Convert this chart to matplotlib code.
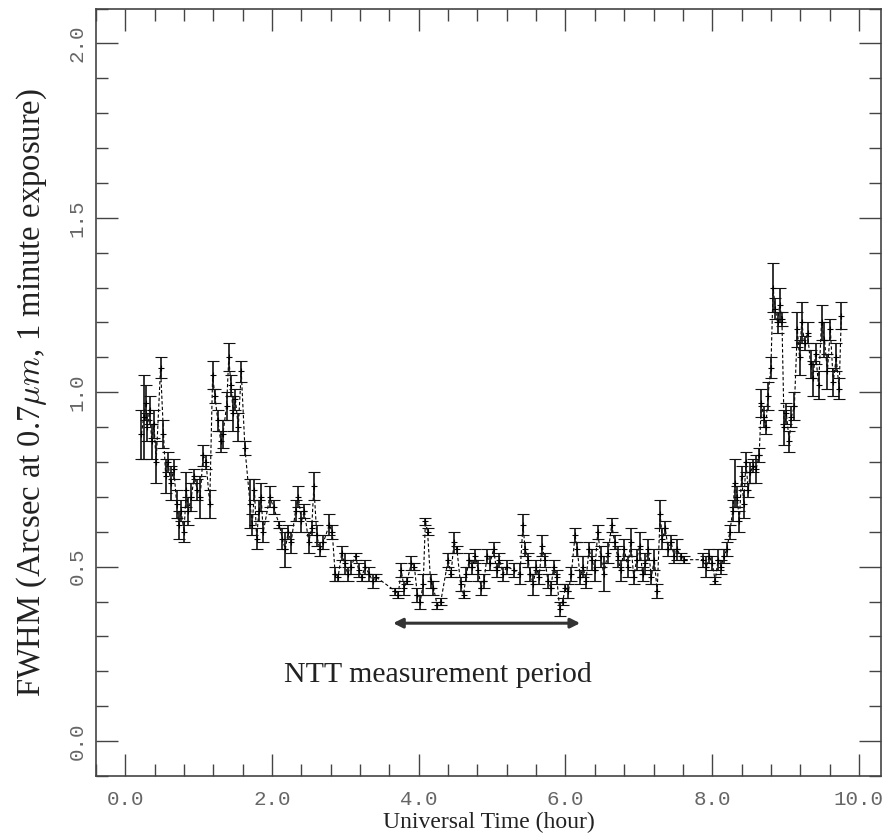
import matplotlib
matplotlib.use("Agg")
import matplotlib.pyplot as plt
from matplotlib.ticker import MultipleLocator, FormatStrFormatter

# seeing measurements: universal time (hour), FWHM (arcsec), error
ut_hour = [
    0.22, 0.25, 0.28, 0.30, 0.33, 0.36, 0.39, 0.42, 0.48, 0.52, 0.55, 0.58,
    0.62, 0.66, 0.70, 0.73, 0.76, 0.80, 0.83, 0.86, 0.90, 0.94, 0.98, 1.02,
    1.06, 1.10, 1.15, 1.19, 1.22, 1.26, 1.30, 1.33, 1.38, 1.41, 1.44, 1.47,
    1.50, 1.54, 1.58, 1.63, 1.70, 1.73, 1.76, 1.79, 1.82, 1.85, 1.88, 1.97,
    2.02, 2.10, 2.14, 2.18, 2.22, 2.26, 2.32, 2.36, 2.40, 2.44, 2.50, 2.54,
    2.57, 2.61, 2.65, 2.70, 2.78, 2.82, 2.86, 2.90, 2.95, 2.99, 3.03, 3.07,
    3.14, 3.18, 3.22, 3.27, 3.32, 3.37, 3.42, 3.68, 3.72, 3.76, 3.80, 3.84,
    3.90, 3.94, 3.98, 4.02, 4.06, 4.09, 4.12, 4.16, 4.20, 4.25, 4.30, 4.40,
    4.44, 4.48, 4.52, 4.57, 4.61, 4.65, 4.69, 4.73, 4.77, 4.81, 4.85, 4.89,
    4.93, 4.97, 5.02, 5.06, 5.10, 5.15, 5.20, 5.30, 5.38, 5.42, 5.45, 5.49,
    5.52, 5.56, 5.60, 5.64, 5.68, 5.72, 5.76, 5.80, 5.84, 5.88, 5.92, 5.96,
    6.00, 6.04, 6.08, 6.13, 6.16, 6.20, 6.24, 6.28, 6.32, 6.36, 6.40, 6.44,
    6.48, 6.52, 6.58, 6.63, 6.67, 6.71, 6.75, 6.80, 6.85, 6.89, 6.93, 6.97,
    7.01, 7.05, 7.09, 7.13, 7.17, 7.21, 7.25, 7.29, 7.32, 7.36, 7.40, 7.44,
    7.48, 7.52, 7.57, 7.62, 7.88, 7.92, 7.96, 8.00, 8.04, 8.08, 8.12, 8.16,
    8.20, 8.24, 8.28, 8.31, 8.34, 8.37, 8.40, 8.43, 8.46, 8.49, 8.52, 8.56,
    8.60, 8.64, 8.67, 8.70, 8.73, 8.76, 8.80, 8.83, 8.86, 8.89, 8.92, 8.95,
    8.98, 9.01, 9.05, 9.08, 9.12, 9.16, 9.19, 9.22, 9.26, 9.30, 9.34, 9.37,
    9.41, 9.45, 9.49, 9.53, 9.57, 9.61, 9.65, 9.69, 9.73, 9.76,
]
fwhm = [
    0.88, 0.93, 0.97, 0.90, 0.95, 0.86, 0.91, 0.80, 1.07, 0.88, 0.76, 0.80,
    0.74, 0.78, 0.68, 0.62, 0.66, 0.60, 0.72, 0.66, 0.70, 0.76, 0.72, 0.70,
    0.82, 0.80, 0.68, 1.05, 0.99, 0.92, 0.86, 0.88, 0.96, 1.10, 1.02, 0.94,
    0.98, 0.90, 1.06, 0.84, 0.68, 0.62, 0.72, 0.58, 0.66, 0.70, 0.60, 0.70,
    0.67, 0.62, 0.58, 0.55, 0.60, 0.57, 0.66, 0.70, 0.63, 0.66, 0.57, 0.61,
    0.73, 0.59, 0.55, 0.57, 0.62, 0.60, 0.48, 0.47, 0.54, 0.51, 0.48, 0.50,
    0.53, 0.49, 0.47, 0.50, 0.48, 0.46, 0.47, 0.43, 0.42, 0.49, 0.44, 0.46,
    0.51, 0.50, 0.42, 0.40, 0.45, 0.63, 0.60, 0.46, 0.44, 0.39, 0.40, 0.52,
    0.48, 0.57, 0.55, 0.45, 0.42, 0.48, 0.52, 0.50, 0.53, 0.49, 0.44, 0.46,
    0.53, 0.51, 0.55, 0.49, 0.52, 0.48, 0.50, 0.49, 0.48, 0.62, 0.55, 0.52,
    0.48, 0.45, 0.50, 0.47, 0.56, 0.52, 0.46, 0.44, 0.50, 0.47, 0.38, 0.40,
    0.44, 0.43, 0.48, 0.59, 0.55, 0.47, 0.50, 0.46, 0.55, 0.52, 0.49, 0.60,
    0.53, 0.48, 0.54, 0.62, 0.57, 0.53, 0.49, 0.55, 0.50, 0.57, 0.47, 0.52,
    0.56, 0.48, 0.51, 0.55, 0.47, 0.52, 0.43, 0.65, 0.58, 0.61, 0.55, 0.57,
    0.53, 0.55, 0.53, 0.52, 0.52, 0.50, 0.53, 0.51, 0.46, 0.52, 0.50, 0.53,
    0.55, 0.60, 0.66, 0.74, 0.70, 0.63, 0.76, 0.68, 0.80, 0.72, 0.77, 0.79,
    0.78, 0.82, 0.97, 0.93, 0.90, 0.99, 1.07, 1.30, 1.24, 1.20, 1.25, 1.21,
    0.90, 0.94, 0.86, 0.93, 0.96, 1.18, 1.10, 1.20, 1.14, 1.17, 1.08, 1.04,
    1.11, 1.02, 1.20, 1.15, 1.06, 1.18, 1.03, 1.10, 1.01, 1.22,
]
fwhm_err = [
    0.07, 0.12, 0.05, 0.04, 0.04, 0.05, 0.04, 0.06, 0.03, 0.04, 0.05, 0.03,
    0.05, 0.03, 0.04, 0.04, 0.03, 0.03, 0.05, 0.04, 0.04, 0.02, 0.03, 0.06,
    0.03, 0.02, 0.04, 0.04, 0.02, 0.03, 0.03, 0.04, 0.04, 0.04, 0.03, 0.05,
    0.03, 0.04, 0.03, 0.02, 0.07, 0.03, 0.03, 0.03, 0.03, 0.04, 0.03, 0.03,
    0.02, 0.01, 0.03, 0.05, 0.02, 0.03, 0.03, 0.03, 0.03, 0.02, 0.03, 0.02,
    0.04, 0.03, 0.02, 0.02, 0.03, 0.02, 0.02, 0.01, 0.02, 0.03, 0.02, 0.02,
    0.01, 0.02, 0.01, 0.02, 0.02, 0.02, 0.01, 0.01, 0.01, 0.02, 0.02, 0.01,
    0.02, 0.01, 0.02, 0.02, 0.03, 0.01, 0.01, 0.02, 0.02, 0.01, 0.01, 0.02,
    0.01, 0.03, 0.01, 0.02, 0.01, 0.02, 0.02, 0.02, 0.02, 0.03, 0.02, 0.02,
    0.02, 0.02, 0.02, 0.02, 0.02, 0.02, 0.02, 0.02, 0.03, 0.03, 0.02, 0.02,
    0.02, 0.03, 0.02, 0.02, 0.03, 0.02, 0.02, 0.02, 0.02, 0.02, 0.02, 0.01,
    0.01, 0.02, 0.02, 0.02, 0.02, 0.02, 0.03, 0.02, 0.02, 0.03, 0.03, 0.02,
    0.03, 0.05, 0.03, 0.02, 0.02, 0.03, 0.03, 0.03, 0.03, 0.04, 0.02, 0.03,
    0.04, 0.02, 0.03, 0.03, 0.02, 0.03, 0.02, 0.04, 0.03, 0.02, 0.02, 0.02,
    0.02, 0.03, 0.01, 0.01, 0.02, 0.03, 0.02, 0.02, 0.01, 0.03, 0.02, 0.02,
    0.02, 0.02, 0.03, 0.07, 0.03, 0.03, 0.03, 0.04, 0.03, 0.02, 0.03, 0.02,
    0.04, 0.02, 0.04, 0.03, 0.02, 0.04, 0.03, 0.07, 0.03, 0.03, 0.05, 0.02,
    0.05, 0.03, 0.03, 0.03, 0.04, 0.05, 0.05, 0.06, 0.02, 0.03, 0.04, 0.05,
    0.03, 0.04, 0.05, 0.05, 0.05, 0.03, 0.04, 0.04, 0.03, 0.04,
]

ntt_period = (3.65, 6.2)

plt.rcParams['mathtext.fontset'] = 'cm'
serif = 'Liberation Serif'
mono = 'Liberation Mono'

fig = plt.figure(figsize=(8.93, 8.36), dpi=100)
ax = fig.add_axes([0.1075, 0.0718, 0.879, 0.918])

ax.plot(ut_hour, fwhm, color='k', ls=(0, (3, 2)), lw=0.8)
ax.errorbar(ut_hour, fwhm, yerr=fwhm_err, fmt='+', ms=5, mew=0.8, color='k',
            ecolor='#111111', elinewidth=1.2, capsize=4.5, capthick=1.2)

ax.annotate('', xy=(ntt_period[0], 0.338), xytext=(ntt_period[1], 0.338),
            arrowprops=dict(arrowstyle='<|-|>', color='#333333', lw=2.2,
                            mutation_scale=14, shrinkA=0, shrinkB=0))
ax.text(4.26, 0.19, 'NTT measurement period', ha='center', va='center',
        family=serif, fontsize=21.5, color='#222222')

ax.set_xlim(-0.4, 10.3)
ax.set_ylim(-0.1, 2.1)
ax.xaxis.set_major_locator(MultipleLocator(2.0))
ax.xaxis.set_minor_locator(MultipleLocator(0.4))
ax.yaxis.set_major_locator(MultipleLocator(0.5))
ax.yaxis.set_minor_locator(MultipleLocator(0.1))
ax.xaxis.set_major_formatter(FormatStrFormatter('%.1f'))
ax.yaxis.set_major_formatter(FormatStrFormatter('%.1f'))

ax.tick_params(which='both', direction='in', top=True, right=True,
               color='#444444', width=1.0)
ax.tick_params(which='major', length=16)
ax.tick_params(which='minor', length=8.5)
ax.tick_params(axis='x', pad=10)
ax.tick_params(axis='y', pad=7)
for lab in ax.get_xticklabels():
    lab.set_family(mono)
    lab.set_fontsize(15)
    lab.set_color('#666666')
for lab in ax.get_yticklabels():
    lab.set_family(mono)
    lab.set_fontsize(15)
    lab.set_color('#666666')
    lab.set_rotation(90)
    lab.set_va('center')

for sp in ax.spines.values():
    sp.set_color('#444444')
    sp.set_linewidth(1.2)

ax.set_xlabel('Universal Time (hour)', family=serif, fontsize=17,
              color='#222222', labelpad=2)
ax.set_ylabel(r'FWHM (Arcsec at 0.7$\mu m$, 1 minute exposure)', family=serif,
              fontsize=23.5, color='#222222', labelpad=13)

fig.savefig('out.png', dpi=100)
